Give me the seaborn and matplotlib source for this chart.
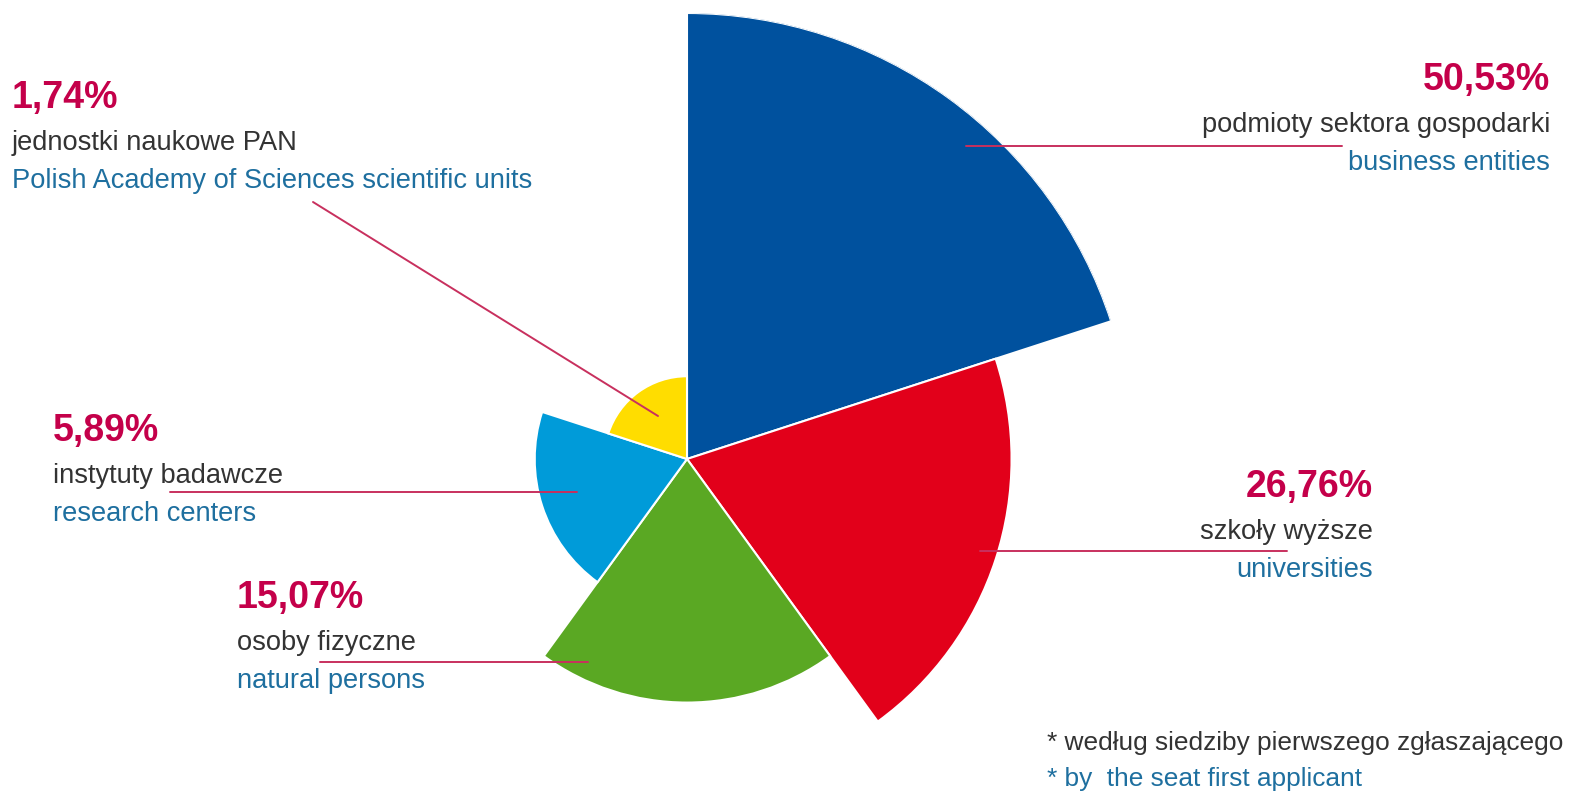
import numpy as np
import matplotlib
matplotlib.use("Agg")
import matplotlib.pyplot as plt
from matplotlib.lines import Line2D
import seaborn as sns

# ---- data ----
categories_pl = ["podmioty sektora gospodarki", "szkoły wyższe", "osoby fizyczne",
                 "instytuty badawcze", "jednostki naukowe PAN"]
categories_en = ["business entities", "universities", "natural persons",
                 "research centers", "Polish Academy of Sciences scientific units"]
shares = [50.53, 26.76, 15.07, 5.89, 1.74]
share_labels = ["50,53%", "26,76%", "15,07%", "5,89%", "1,74%"]
colors = ["#00519E", "#E2001A", "#5AA823", "#009BD9", "#FFDD00"]
footnote_pl = "* według siedziby pierwszego zgłaszającego"
footnote_en = "* by  the seat first applicant"

sns.set_theme(style="white")
FONT = ["Liberation Sans", "DejaVu Sans"]
plt.rcParams["font.family"] = FONT

W, H = 1573, 797
fig = plt.figure(figsize=(W / 100, H / 100), dpi=100)

cx, cy, R = 687, 459, 446  # centre and largest radius in pixels
ax = fig.add_axes([(cx - R) / W, (H - cy - R) / H, 2 * R / W, 2 * R / H], projection="polar")
ax.set_theta_zero_location("N")
ax.set_theta_direction(-1)

n = len(shares)
width = 2 * np.pi / n
theta = np.arange(n) * width
radii = np.sqrt(shares)
ax.bar(theta, radii, width=width, align="edge", color=colors,
       edgecolor="white", linewidth=1.5)
ax.set_ylim(0, max(radii))
ax.set_axis_off()

PCT = "#C4004A"
DARK = "#333333"
ENG = "#1E6F9F"
LINE = "#C8305E"


def px(x, y):
    return x / W, 1 - y / H


def label(x, y, i, ha):
    fig.text(*px(x, y), share_labels[i], color=PCT, fontsize=27, fontweight="bold",
             ha=ha, va="center")
    fig.text(*px(x, y + 45), categories_pl[i], color=DARK, fontsize=19.6, ha=ha, va="center")
    fig.text(*px(x, y + 83), categories_en[i], color=ENG, fontsize=19.6, ha=ha, va="center")


def leader(x0, y0, x1, y1):
    fig.add_artist(Line2D([x0 / W, x1 / W], [1 - y0 / H, 1 - y1 / H],
                          transform=fig.transFigure, color=LINE, lw=1.4))


label(1550, 80, 0, "right")
label(1373, 487, 1, "right")
label(237, 598, 2, "left")
label(53, 431, 3, "left")
label(12, 98, 4, "left")

leader(966, 146, 1342, 146)
leader(980, 551, 1287, 551)
leader(320, 662, 588, 662)
leader(170, 492, 577, 492)
leader(313, 202, 658, 416)

fig.text(*px(1047, 743), footnote_pl, color=DARK, fontsize=18.9, ha="left", va="center")
fig.text(*px(1047, 779), footnote_en, color=ENG, fontsize=18.9, ha="left", va="center")

fig.savefig("out.png", dpi=100, facecolor="white")
